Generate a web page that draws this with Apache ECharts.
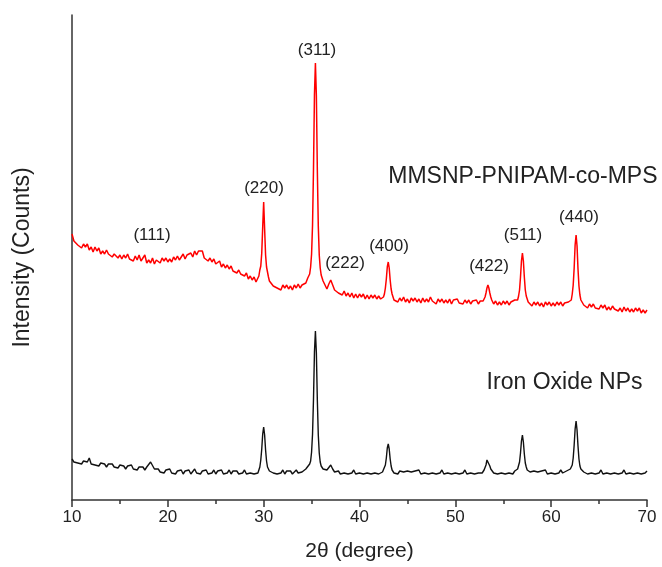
<!DOCTYPE html>
<html><head><meta charset="utf-8">
<script src="https://cdn.jsdelivr.net/npm/echarts@6/dist/echarts.min.js"></script>
<style>html,body{margin:0;padding:0;background:#fff}#chart{width:662px;height:567px}</style>
</head><body><div id="chart"></div>
<script>
// 2θ range and ticks
const xMin = 10, xMax = 70, xStep = 10;
const yMin = 0, yMax = 485;

// MMSNP-PNIPAM-co-MPS pattern: [2θ, intensity (a.u.)]
const mmsnpPattern = [
[10.0,266],[10.2,259],[10.4,261],[10.6,255],[10.8,257],[11.0,252],[11.2,256],[11.4,253],[11.6,256],[11.8,250],
[12.0,253],[12.2,248],[12.4,253],[12.6,249],[12.8,252],[13.0,246],[13.2,249],[13.4,246],[13.6,250],[13.8,246],
[14.0,248],[14.2,243],[14.4,246],[14.6,248],[14.8,242],[15.0,245],[15.2,241],[15.4,245],[15.6,242],[15.8,246],
[16.0,241],[16.2,243],[16.4,239],[16.6,244],[16.8,240],[17.0,245],[17.2,239],[17.4,241],[17.6,245],[17.8,237],
[18.0,240],[18.2,237],[18.4,242],[18.6,236],[18.8,240],[19.0,241],[19.2,237],[19.4,242],[19.6,239],[19.8,242],
[20.0,238],[20.2,241],[20.4,238],[20.6,243],[20.8,240],[21.0,244],[21.2,240],[21.4,243],[21.6,246],[21.8,241],
[22.0,245],[22.2,243],[22.4,247],[22.6,243],[22.8,249],[23.0,245],[23.2,249],[23.4,247],[23.6,249],[23.8,242],
[24.0,243],[24.2,239],[24.4,242],[24.6,238],[24.8,241],[25.0,236],[25.2,238],[25.4,239],[25.6,233],[25.8,236],
[26.0,232],[26.2,235],[26.4,231],[26.6,234],[26.8,229],[27.0,231],[27.2,227],[27.4,230],[27.6,226],[27.8,228],
[28.0,224],[28.2,227],[28.4,221],[28.6,224],[28.8,220],[29.0,223],[29.2,218],[29.4,220],
[29.5,224],[29.6,230],[29.7,234],[29.8,247],[29.9,273],[30.0,298],[30.1,271],[30.2,245],[30.3,233],[30.4,228],[30.5,223],[30.6,219],[30.8,217],
[31.0,214],[31.2,216],[31.4,212],[31.6,214],[31.8,210],[32.0,215],[32.2,212],[32.4,215],[32.6,211],[32.8,214],
[33.0,210],[33.2,215],[33.4,212],[33.6,216],[33.8,212],[34.0,215],[34.2,213],[34.4,217],[34.6,222],[34.8,226],
[34.9,233],[35.0,246],[35.1,275],[35.2,331],[35.3,405],[35.4,437],[35.5,404],[35.6,330],[35.7,274],[35.8,245],[35.9,232],[36.0,225],
[36.2,219],[36.4,218],[36.6,211],[36.8,216],[37.0,220],[37.2,215],[37.4,210],[37.6,212],[37.8,207],
[38.0,209],[38.2,205],[38.4,209],[38.6,204],[38.8,207],[39.0,203],[39.2,207],[39.4,202],[39.6,206],[39.8,202],
[40.0,206],[40.2,203],[40.4,206],[40.6,201],[40.8,205],[41.0,201],[41.2,205],[41.4,202],[41.6,205],[41.8,201],
[42.0,204],[42.2,201],[42.4,202],[42.5,203],[42.6,206],[42.7,212],[42.8,221],[42.9,233],[43.0,238],[43.1,232],[43.2,220],[43.3,211],[43.4,206],[43.5,203],[43.6,200],[43.8,202],
[44.0,198],[44.2,202],[44.4,199],[44.6,203],[44.8,198],[45.0,201],[45.2,197],[45.4,202],[45.6,199],[45.8,202],
[46.0,198],[46.2,201],[46.4,197],[46.6,202],[46.8,198],[47.0,201],[47.2,198],[47.4,203],[47.6,199],[47.8,200],
[48.0,196],[48.2,201],[48.4,198],[48.6,201],[48.8,197],[49.0,200],[49.2,197],[49.4,201],[49.6,196],[49.8,200],
[50.0,198],[50.2,201],[50.4,197],[50.6,199],[50.8,196],[51.0,200],[51.2,197],[51.4,200],[51.6,196],[51.8,199],
[52.0,197],[52.2,200],[52.4,196],[52.6,199],[52.8,197],[52.9,199],[53.0,200],[53.1,203],[53.2,207],[53.3,212],[53.4,215],[53.5,212],[53.6,207],[53.7,203],[53.8,200],[53.9,198],
[54.0,196],[54.2,199],[54.4,195],[54.6,198],[54.8,195],[55.0,199],[55.2,196],[55.4,199],[55.6,195],[55.8,198],
[56.0,196],[56.2,200],[56.4,199],[56.5,200],[56.6,204],[56.7,210],[56.8,223],[56.9,239],[57.0,247],[57.1,239],[57.2,223],[57.3,210],[57.4,204],[57.5,201],[57.6,198],[57.8,199],
[58.0,194],[58.2,198],[58.4,195],[58.6,198],[58.8,194],[59.0,197],[59.2,193],[59.4,198],[59.6,195],[59.8,198],
[60.0,194],[60.2,197],[60.4,194],[60.6,198],[60.8,195],[61.0,198],[61.2,194],[61.4,197],[61.6,196],[61.8,198],
[62.0,200],[62.1,200],[62.2,206],[62.3,215],[62.4,232],[62.5,255],[62.6,265],[62.7,254],[62.8,231],[62.9,214],[63.0,205],[63.1,200],[63.2,199],[63.4,195],[63.6,197],[63.8,192],
[64.0,196],[64.2,193],[64.4,196],[64.6,192],[64.8,194],[65.0,191],[65.2,195],[65.4,192],[65.6,195],[65.8,190],
[66.0,193],[66.2,190],[66.4,194],[66.6,191],[66.8,193],[67.0,189],[67.2,192],[67.4,188],[67.6,193],[67.8,189],
[68.0,192],[68.2,188],[68.4,191],[68.6,188],[68.8,192],[69.0,189],[69.2,192],[69.4,187],[69.6,190],[69.8,187],[70.0,190]
];

// Iron Oxide NPs pattern: [2θ, intensity (a.u.)]
const ironOxidePattern = [
[10.0,41],[10.2,38],[10.4,40],[10.6,37],[10.8,39],[11.0,36],[11.2,39],[11.4,37],[11.6,38],[11.8,42],
[12.0,36],[12.2,38],[12.4,35],[12.6,37],[12.8,34],[13.0,37],[13.2,35],[13.4,36],[13.6,33],[13.8,36],
[14.0,34],[14.2,36],[14.4,33],[14.6,35],[14.8,32],[15.0,35],[15.2,33],[15.4,34],[15.6,31],[15.8,34],
[16.0,32],[16.2,35],[16.4,31],[16.6,33],[16.8,30],[17.0,33],[17.2,31],[17.4,33],[17.6,30],[17.8,33],
[18.0,34],[18.2,38],[18.4,36],[18.6,31],[18.8,29],[19.0,31],[19.2,28],[19.4,30],[19.6,27],[19.8,30],
[20.0,28],[20.2,31],[20.4,27],[20.6,29],[20.8,26],[21.0,29],[21.2,27],[21.4,30],[21.6,26],[21.8,29],
[22.0,27],[22.2,30],[22.4,26],[22.6,28],[22.8,31],[23.0,27],[23.2,29],[23.4,26],[23.6,29],[23.8,27],
[24.0,30],[24.2,26],[24.4,28],[24.6,27],[24.8,30],[25.0,26],[25.2,29],[25.4,27],[25.6,30],[25.8,26],
[26.0,28],[26.2,27],[26.4,30],[26.6,26],[26.8,29],[27.0,27],[27.2,29],[27.4,26],[27.6,28],[27.8,27],
[28.0,30],[28.2,26],[28.4,28],[28.6,27],[28.8,29],[29.0,26],[29.2,28],[29.4,27],
[29.5,30],[29.6,33],[29.7,40],[29.8,51],[29.9,66],[30.0,73],[30.1,65],[30.2,50],[30.3,39],[30.4,33],[30.5,32],[30.6,29],[30.8,30],
[31.0,27],[31.2,29],[31.4,26],[31.6,28],[31.8,27],[32.0,30],[32.2,26],[32.4,29],[32.6,27],[32.8,29],
[33.0,26],[33.2,28],[33.4,30],[33.6,27],[33.8,29],[34.0,28],[34.2,30],[34.4,31],[34.6,33],[34.8,36],
[34.9,39],[35.0,48],[35.1,66],[35.2,101],[35.3,148],[35.4,169],[35.5,147],[35.6,100],[35.7,65],[35.8,47],[35.9,38],[36.0,34],
[36.2,31],[36.4,29],[36.6,30],[36.8,31],[37.0,35],[37.2,31],[37.4,28],[37.6,27],[37.8,29],
[38.0,26],[38.2,28],[38.4,27],[38.6,29],[38.8,26],[39.0,28],[39.2,27],[39.4,30],[39.6,26],[39.8,28],
[40.0,27],[40.2,29],[40.4,26],[40.6,28],[40.8,27],[41.0,29],[41.2,26],[41.4,28],[41.6,27],[41.8,29],
[42.0,26],[42.2,28],[42.4,28],[42.5,29],[42.6,30],[42.7,35],[42.8,42],[42.9,52],[43.0,56],[43.1,51],[43.2,41],[43.3,34],[43.4,30],[43.5,29],[43.6,27],[43.8,28],
[44.0,26],[44.2,29],[44.4,27],[44.6,28],[44.8,26],[45.0,29],[45.2,27],[45.4,28],[45.6,26],[45.8,29],
[46.0,27],[46.2,30],[46.4,26],[46.6,28],[46.8,27],[47.0,29],[47.2,26],[47.4,28],[47.6,27],[47.8,29],
[48.0,26],[48.2,28],[48.4,27],[48.6,30],[48.8,26],[49.0,28],[49.2,27],[49.4,29],[49.6,26],[49.8,28],
[50.0,27],[50.2,29],[50.4,26],[50.6,28],[50.8,27],[51.0,30],[51.2,26],[51.4,28],[51.6,27],[51.8,29],
[52.0,26],[52.2,28],[52.4,27],[52.6,29],[52.8,27],[52.9,28],[53.0,30],[53.1,32],[53.2,35],[53.3,40],[53.4,42],[53.5,39],[53.6,34],[53.7,31],[53.8,29],[53.9,30],
[54.0,27],[54.2,29],[54.4,26],[54.6,28],[54.8,27],[55.0,29],[55.2,26],[55.4,28],[55.6,27],[55.8,29],
[56.0,26],[56.2,29],[56.4,29],[56.5,31],[56.6,33],[56.7,38],[56.8,47],[56.9,59],[57.0,65],[57.1,58],[57.2,46],[57.3,37],[57.4,33],[57.5,30],[57.6,29],[57.8,28],
[58.0,26],[58.2,29],[58.4,27],[58.6,28],[58.8,26],[59.0,29],[59.2,27],[59.4,30],[59.6,26],[59.8,28],
[60.0,27],[60.2,29],[60.4,26],[60.6,28],[60.8,27],[61.0,30],[61.2,27],[61.4,28],[61.6,29],[61.8,29],
[62.0,31],[62.1,32],[62.2,35],[62.3,42],[62.4,55],[62.5,71],[62.6,79],[62.7,70],[62.8,54],[62.9,41],[63.0,34],[63.1,31],[63.2,30],[63.4,28],[63.6,29],[63.8,26],
[64.0,28],[64.2,27],[64.4,29],[64.6,26],[64.8,28],[65.0,27],[65.2,30],[65.4,26],[65.6,28],[65.8,27],
[66.0,29],[66.2,26],[66.4,28],[66.6,27],[66.8,29],[67.0,26],[67.2,28],[67.4,27],[67.6,30],[67.8,26],
[68.0,28],[68.2,27],[68.4,29],[68.6,26],[68.8,28],[69.0,27],[69.2,29],[69.4,26],[69.6,28],[69.8,27],[70.0,29]
];

// Miller index labels: [text, 2θ anchor, intensity anchor]
const peakLabels = [
  ['(111)', 18.35, 265],
  ['(220)', 30.04, 312],
  ['(311)', 35.57, 450],
  ['(222)', 38.49, 237],
  ['(400)', 43.08, 254],
  ['(422)', 53.51, 234],
  ['(511)', 57.06, 265],
  ['(440)', 62.9, 283]
];
// Sample name labels: [text, 2θ anchor, intensity anchor]
const mmsnpName = ['MMSNP-PNIPAM-co-MPS', 57.05, 323];
const ironName = ['Iron Oxide NPs', 61.4, 117];

const FONT = 'Liberation Sans, Arial, sans-serif';
const textColor = '#222';

const chart = echarts.init(document.getElementById('chart'), null, {renderer: 'canvas'});
const labelPoint = (arr, size) => ({
  name: arr[0], coord: [arr[1], arr[2]], value: arr[0],
  symbol: 'circle', symbolSize: 0, itemStyle: {color: 'rgba(0,0,0,0)'},
  label: {show: true, position: 'inside', formatter: '{b}', color: textColor, fontSize: size, fontFamily: FONT}
});

chart.setOption({
  animation: false,
  backgroundColor: '#fff',
  grid: {left: 72, right: 15, top: 15, bottom: 67, containLabel: false},
  xAxis: {
    type: 'value', min: xMin, max: xMax, interval: xStep,
    name: '2θ (degree)', nameLocation: 'middle', nameGap: 41,
    nameTextStyle: {fontSize: 21, color: textColor, fontFamily: FONT},
    axisLine: {show: true, onZero: false, lineStyle: {color: '#333', width: 1.5}},
    axisTick: {show: true, inside: false, length: 7, lineStyle: {color: '#333', width: 1.5}},
    minorTick: {show: true, splitNumber: 2, length: 4, lineStyle: {color: '#333', width: 1.5}},
    axisLabel: {fontSize: 17, color: textColor, margin: 9, fontFamily: FONT},
    splitLine: {show: false}
  },
  yAxis: {
    type: 'value', min: yMin, max: yMax,
    name: 'Intensity (Counts)', nameLocation: 'middle', nameGap: 38,
    nameTextStyle: {fontSize: 23, color: textColor, fontFamily: FONT},
    axisLine: {show: true, onZero: false, lineStyle: {color: '#333', width: 1.5}},
    axisTick: {show: false},
    axisLabel: {show: false},
    splitLine: {show: false}
  },
  series: [
    {
      name: 'MMSNP-PNIPAM-co-MPS', type: 'line', data: mmsnpPattern,
      showSymbol: false, symbol: 'none', sampling: null, silent: true,
      lineStyle: {color: '#ff0000', width: 1.5}, itemStyle: {color: '#ff0000'},
      markPoint: {silent: true, data: peakLabels.map(p => labelPoint(p, 17)).concat([labelPoint(mmsnpName, 23)])}
    },
    {
      name: 'Iron Oxide NPs', type: 'line', data: ironOxidePattern,
      showSymbol: false, symbol: 'none', sampling: null, silent: true,
      lineStyle: {color: '#111', width: 1.4}, itemStyle: {color: '#111'},
      markPoint: {silent: true, data: [labelPoint(ironName, 23)]}
    }
  ]
});
</script>
</body></html>
